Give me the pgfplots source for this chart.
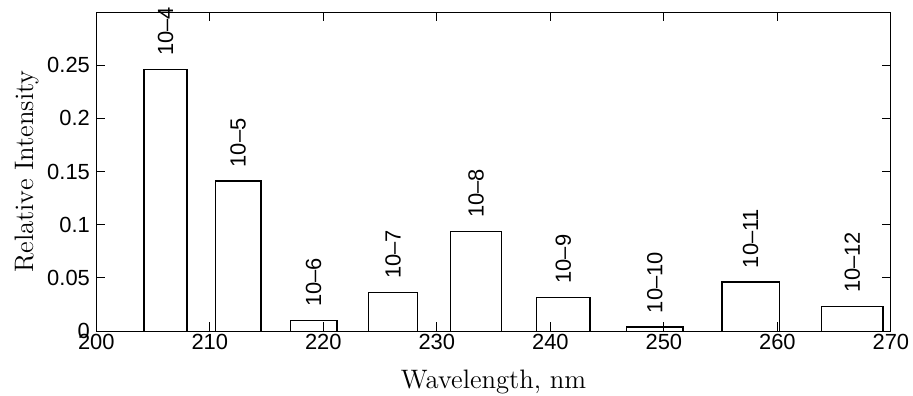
\documentclass[border=0pt]{standalone}
\usepackage{fontspec}
\usepackage{pgfplots}
\pgfplotsset{compat=1.18}
\newfontfamily\helv{Liberation Sans}
\begin{document}
\begin{tikzpicture}
\path[use as bounding box] (-48.15bp,-32.5bp) rectangle (408.35bp,165.5bp);
\begin{axis}[
  at={(0,0)}, anchor=south west,
  scale only axis, width=397.3bp, height=159.5bp,
  xmin=200, xmax=270, ymin=0, ymax=0.3,
  xtick={200,210,...,270},
  ytick={0,0.05,0.1,0.15,0.2,0.25},
  yticklabels={0,0.05,0.1,0.15,0.2,0.25},
  tick align=inside, tick pos=both,
  major tick length=4.5bp,
  /pgf/number format/assume math mode=true,
  ticklabel style={font=\helv\fontsize{11}{13}\selectfont},
  xticklabel style={inner ysep=1.5bp},
  yticklabel style={inner xsep=3bp},
  xlabel={Wavelength, nm},
  ylabel={Relative Intensity},
  xlabel style={at={(axis description cs:0.5,-0.1818)}, anchor=base, font=\fontsize{13.4}{16}\selectfont},
  ylabel style={at={(axis description cs:-0.0788,0.5)}, anchor=base, rotate=0, font=\fontsize{13.4}{16}\selectfont},
  axis line style={line width=0.5bp},
  every tick/.style={black, line width=0.5bp},
]
\addplot[black, line width=0.75bp, mark=none] coordinates {(204.2,0) (204.2,0.246) (208.0,0.246) (208.0,0)};
\addplot[black, line width=0.75bp, mark=none] coordinates {(210.5,0) (210.5,0.141) (214.5,0.141) (214.5,0)};
\addplot[black, line width=0.75bp, mark=none] coordinates {(217.1,0) (217.1,0.0097) (221.2,0.0097) (221.2,0)};
\addplot[black, line width=0.75bp, mark=none] coordinates {(224.0,0) (224.0,0.036) (228.3,0.036) (228.3,0)};
\addplot[black, line width=0.75bp, mark=none] coordinates {(231.2,0) (231.2,0.0935) (235.7,0.0935) (235.7,0)};
\addplot[black, line width=0.75bp, mark=none] coordinates {(238.8,0) (238.8,0.0317) (243.5,0.0317) (243.5,0)};
\addplot[black, line width=0.75bp, mark=none] coordinates {(246.7,0) (246.7,0.0038) (251.7,0.0038) (251.7,0)};
\addplot[black, line width=0.75bp, mark=none] coordinates {(255.1,0) (255.1,0.0461) (260.2,0.0461) (260.2,0)};
\addplot[black, line width=0.75bp, mark=none] coordinates {(263.9,0) (263.9,0.0229) (269.3,0.0229) (269.3,0)};
\addplot[draw=none, mark=none, nodes near coords, point meta=explicit symbolic,
  nodes near coords style={rotate=90, anchor=west, inner xsep=6.7bp, inner ysep=0pt,
    font=\helv\fontsize{11}{13}\selectfont}]
  table[meta=label, row sep=\\] {
  x y label\\
  206.1 0.246 10\textendash4\\
  212.5 0.141 10\textendash5\\
  219.15 0.0097 10\textendash6\\
  226.15 0.036 10\textendash7\\
  233.45 0.0935 10\textendash8\\
  241.15 0.0317 10\textendash9\\
  249.2 0.0038 10\textendash10\\
  257.65 0.0461 10\textendash11\\
  266.6 0.0229 10\textendash12\\
};
\end{axis}
\end{tikzpicture}
\end{document}
